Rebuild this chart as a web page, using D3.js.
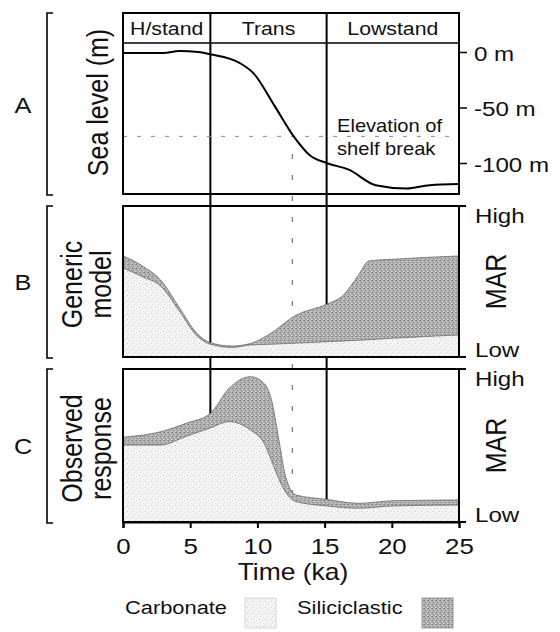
<!DOCTYPE html>
<html>
<head>
<meta charset="utf-8">
<script src="https://cdn.jsdelivr.net/npm/d3@7"></script>
<style>
  body { margin: 0; background: #fff; }
  svg { display: block; font-family: "Liberation Sans", Arial, sans-serif; }
  text { fill: #111; }
</style>
</head>
<body>
<div id="chart"></div>
<script>
// Sea level curve (panel A)
const seaTime = [0, 3, 4.2, 5.6, 6.5, 8.7, 9.7, 11.3, 12.7, 13.9, 15.15, 16.8, 18.8, 21.1, 22.8, 25];
const seaLevel = [-1, -1, 1, 0, -2, -10, -19, -49, -76, -93, -100, -106, -120, -123, -120, -119];

// Generic model (panel B), MAR on 0 (low) .. 100 (high)
const genericTime = [0, 1.5, 2.8, 4.15, 5.5, 6.5, 8.1, 9.5, 10.8, 12.9, 15.15, 16.4, 17.5, 18.3, 20, 25];
const genericCarbonate = [59, 53, 47, 31, 14, 8.5, 6.3, 8, 8.4, 9.2, 10.1, 10.6, 11.1, 11.5, 12.4, 14.6];
const genericTotal = [67, 60, 51, 33.3, 15.7, 9.5, 7.3, 9, 14.6, 27.8, 34.9, 41, 54, 63.6, 64.7, 66.9];

// Observed response (panel C)
const observedTime = [0, 2.8, 4.7, 6.5, 7.9, 9.5, 10.5, 11.05, 11.6, 12.1, 12.9, 15.15, 17.5, 20.1, 25];
const observedCarbonate = [50.3, 50.3, 56, 61.5, 65.6, 60, 51.4, 40, 28, 19.5, 13.3, 10.5, 9, 10.5, 11.1];
const observedTotal = [55.4, 59, 64.5, 71, 87.4, 95, 90.6, 79.7, 53.6, 29.6, 17.6, 14.8, 12.2, 13.9, 14.4];

// Axes / annotations
const timeTicks = [0, 5, 10, 15, 20, 25];
const seaTicks = [0, -50, -100];
const phaseNames = ["H/stand", "Trans", "Lowstand"];
const phaseBounds = [0, 6.5, 15.15, 25];
const shelfBreak = -76;
const shelfBreakTime = 12.6;
const legendItems = ["Carbonate", "Siliciclastic"];

const W = 560, H = 632;
const SX = 1.15; // horizontal stretch of the scanned lettering

const svg = d3.select("#chart").append("svg")
  .attr("width", W)
  .attr("height", H);

const defs = svg.append("defs");

// stipple textures
const carbPat = defs.append("pattern")
  .attr("id", "carb")
  .attr("width", 6).attr("height", 6)
  .attr("patternUnits", "userSpaceOnUse");
carbPat.append("rect").attr("width", 6).attr("height", 6).attr("fill", "#f4f4f4");
[[1, 1, "#c4c4c4"], [4, 2, "#d6d6d6"], [2, 4, "#cfcfcf"], [5, 5, "#e0e0e0"]].forEach(p => {
  carbPat.append("rect").attr("x", p[0]).attr("y", p[1]).attr("width", 1).attr("height", 1).attr("fill", p[2]);
});

const silPat = defs.append("pattern")
  .attr("id", "sil")
  .attr("width", 4).attr("height", 4)
  .attr("patternUnits", "userSpaceOnUse");
silPat.append("rect").attr("width", 4).attr("height", 4).attr("fill", "#b0b0b0");
[[0, 0, "#7c7c7c"], [2, 1, "#d4d4d4"], [1, 2, "#8a8a8a"], [3, 3, "#cdcdcd"], [3, 0, "#969696"]].forEach(p => {
  silPat.append("rect").attr("x", p[0]).attr("y", p[1]).attr("width", 1).attr("height", 1).attr("fill", p[2]);
});

// Scales
const x = d3.scaleLinear().domain([0, 25]).range([123, 459]);

const panelA = { top: 13, header: 43, bottom: 194 };
const panelB = { top: 206, bottom: 357 };
const panelC = { top: 369, bottom: 522 };

const ySea = d3.scaleLinear().domain([0, -100]).range([52, 163]);
const yB = d3.scaleLinear().domain([0, 100]).range([panelB.bottom, panelB.top]);
const yC = d3.scaleLinear().domain([0, 100]).range([panelC.bottom, panelC.top]);

// text helpers
function label(g, str, px, py, size, anchor) {
  return g.append("text")
    .attr("transform", `translate(${px},${py}) scale(${SX},1)`)
    .attr("text-anchor", anchor || "start")
    .style("font-size", size + "px")
    .text(str);
}
function vlabel(g, str, px, py, size) {
  return g.append("text")
    .attr("transform", `translate(${px},${py}) rotate(-90) scale(1,${SX})`)
    .attr("text-anchor", "middle")
    .style("font-size", size + "px")
    .text(str);
}

// phase boundaries and shelf-break guide (drawn underneath the fills)
const guides = svg.append("g");
phaseBounds.slice(1, -1).forEach(t => {
  guides.append("line")
    .attr("x1", x(t)).attr("x2", x(t))
    .attr("y1", panelA.top).attr("y2", panelC.bottom)
    .attr("stroke", "#000").attr("stroke-width", 2);
});
guides.append("line")
  .attr("x1", x(shelfBreakTime)).attr("x2", x(shelfBreakTime))
  .attr("y1", ySea(-92)).attr("y2", panelC.bottom)
  .attr("stroke", "#777").attr("stroke-width", 1.2)
  .attr("stroke-dasharray", "5,16");
guides.append("line")
  .attr("x1", x(0)).attr("x2", x(25))
  .attr("y1", ySea(shelfBreak)).attr("y2", ySea(shelfBreak))
  .attr("stroke", "#888").attr("stroke-width", 1)
  .attr("stroke-dasharray", "4,10");

// ---------- Panel A ----------
const gA = svg.append("g");
const seaData = seaTime.map((t, i) => ({ t: t, v: seaLevel[i] }));
gA.append("path")
  .datum(seaData)
  .attr("fill", "none")
  .attr("stroke", "#000")
  .attr("stroke-width", 2)
  .attr("d", d3.line().x(d => x(d.t)).y(d => ySea(d.v)).curve(d3.curveMonotoneX));

gA.append("rect")
  .attr("x", x(0)).attr("y", panelA.top)
  .attr("width", x(25) - x(0)).attr("height", panelA.bottom - panelA.top)
  .attr("fill", "none").attr("stroke", "#000").attr("stroke-width", 2);
gA.append("line")
  .attr("x1", x(0)).attr("x2", x(25))
  .attr("y1", panelA.header).attr("y2", panelA.header)
  .attr("stroke", "#000").attr("stroke-width", 1.5);

phaseNames.forEach((name, i) => {
  label(gA, name, x((phaseBounds[i] + phaseBounds[i + 1]) / 2), 35, 18.5, "middle");
});

label(gA, "Elevation of", 337, 132, 17.5, "start");
label(gA, "shelf break", 337, 155, 17.5, "start");

const seaAxis = gA.append("g")
  .attr("transform", `translate(${x(25)},0)`)
  .call(d3.axisRight(ySea).tickValues(seaTicks).tickSize(8).tickFormat(d => d + " m"));
seaAxis.select(".domain").remove();
seaAxis.selectAll("line").attr("stroke", "#000").attr("stroke-width", 1.5);
seaAxis.selectAll("text")
  .attr("x", null).attr("dy", null)
  .attr("transform", `translate(15,8) scale(${SX},1)`)
  .style("font-size", "21px")
  .style("font-family", "'Liberation Sans', Arial, sans-serif")
  .attr("fill", "#111");

// ---------- Panels B and C ----------
function marPanel(panel, y, times, carb, total, id) {
  const g = svg.append("g");
  const rows = times.map((t, i) => ({ t: t, c: carb[i], s: total[i] }));
  defs.append("clipPath").attr("id", id)
    .append("rect")
    .attr("x", x(0)).attr("y", panel.top)
    .attr("width", x(25) - x(0)).attr("height", panel.bottom - panel.top);
  const body = g.append("g").attr("clip-path", `url(#${id})`);

  body.append("path")
    .datum(rows)
    .attr("fill", "url(#carb)")
    .attr("d", d3.area().x(d => x(d.t)).y0(y(0)).y1(d => y(d.c)).curve(d3.curveMonotoneX));
  body.append("path")
    .datum(rows)
    .attr("fill", "url(#sil)")
    .attr("stroke", "#6a6a6a")
    .attr("stroke-width", 0.8)
    .attr("d", d3.area().x(d => x(d.t)).y0(d => y(d.c)).y1(d => y(d.s)).curve(d3.curveMonotoneX));

  g.append("rect")
    .attr("x", x(0)).attr("y", panel.top)
    .attr("width", x(25) - x(0)).attr("height", panel.bottom - panel.top)
    .attr("fill", "none").attr("stroke", "#000").attr("stroke-width", 2);

  // High / Low ticks
  [panel.top, panel.bottom].forEach(py => {
    g.append("line")
      .attr("x1", x(25)).attr("x2", x(25) + 7)
      .attr("y1", py).attr("y2", py)
      .attr("stroke", "#000").attr("stroke-width", 2);
  });
  label(g, "High", 475, panel.top + 17, 21, "start");
  label(g, "Low", 475, panel.bottom, 21, "start");
  vlabel(g, "MAR", 506, (panel.top + panel.bottom) / 2, 25);
  return g;
}

marPanel(panelB, yB, genericTime, genericCarbonate, genericTotal, "clipB");
const gC = marPanel(panelC, yC, observedTime, observedCarbonate, observedTotal, "clipC");

// x axis
const xAxis = gC.append("g")
  .attr("transform", `translate(0,${panelC.bottom})`)
  .call(d3.axisBottom(x).tickValues(timeTicks).tickSize(6).tickPadding(10));
xAxis.select(".domain").attr("stroke", "#000").attr("stroke-width", 2);
xAxis.selectAll("line").attr("stroke", "#000").attr("stroke-width", 2);
xAxis.selectAll("text")
  .attr("transform", `scale(${SX},1)`)
  .style("font-size", "22.5px")
  .style("font-family", "'Liberation Sans', Arial, sans-serif")
  .attr("fill", "#111");

label(svg, "Time (ka)", (x(0) + x(25)) / 2 + 2, 580, 23, "middle");

// ---------- left-hand panel labels ----------
const panelsLeft = [
  { key: "A", top: panelA.top, bottom: panelA.bottom, base: 113, title: ["Sea level (m)"] },
  { key: "B", top: panelB.top, bottom: panelB.bottom, base: 290, title: ["Generic", "model"] },
  { key: "C", top: panelC.top, bottom: panelC.bottom, base: 454, title: ["Observed", "response"] }
];
const gL = svg.append("g");
panelsLeft.forEach(p => {
  label(gL, p.key, 23, p.base, 22, "middle");
  gL.append("path")
    .attr("d", `M53,${p.top}H47V${p.bottom + 1}H53`)
    .attr("fill", "none").attr("stroke", "#000").attr("stroke-width", 1.6);
  const cy = (p.top + p.bottom) / 2;
  if (p.title.length === 1) {
    vlabel(gL, p.title[0], 108, cy - 1, 25);
  } else {
    vlabel(gL, p.title[0], 82, cy + 3, 25);
    vlabel(gL, p.title[1], 111, cy + 3, 25);
  }
});

// ---------- legend ----------
const gLeg = svg.append("g");
const legendX = [[125, 245], [297, 422]];
legendItems.forEach((name, i) => {
  label(gLeg, name, legendX[i][0], 614, 19, "start");
  gLeg.append("rect")
    .attr("x", legendX[i][1]).attr("y", 598)
    .attr("width", 31).attr("height", 30)
    .attr("fill", i === 0 ? "url(#carb)" : "url(#sil)")
    .attr("stroke", i === 0 ? "#d0d0d0" : "#888")
    .attr("stroke-width", 0.8);
});
</script>
</body>
</html>
